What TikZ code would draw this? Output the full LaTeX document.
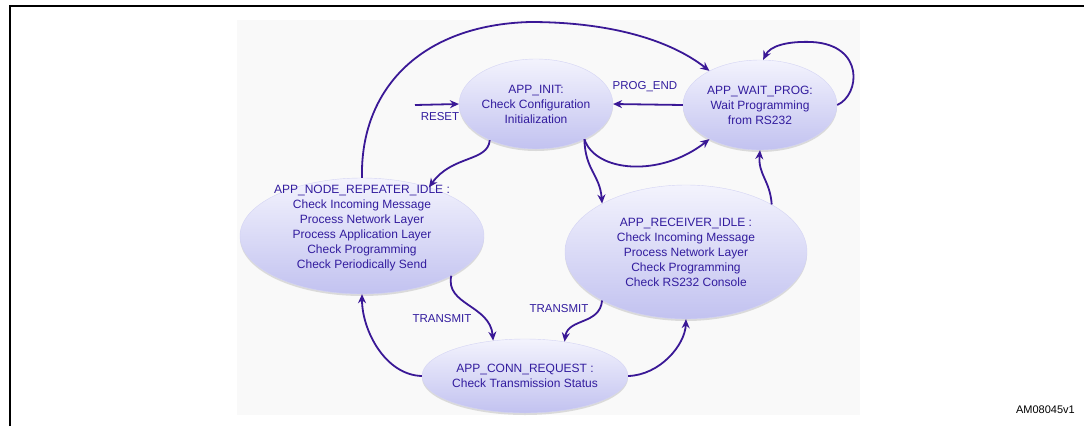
\documentclass[tikz,border=0pt]{standalone}
\usepackage{fontspec}
\setmainfont{Liberation Sans}
\usetikzlibrary{arrows.meta,shapes.geometric,shadows}
\definecolor{arrc}{HTML}{3A1896}
\definecolor{txtc}{HTML}{321C9E}
\definecolor{topc}{HTML}{F3F3FD}
\definecolor{botc}{HTML}{C2C2F0}
\definecolor{bgc}{HTML}{F9F9F9}
\begin{document}
\begin{tikzpicture}[x=1pt,y=-1pt,
  state/.style={ellipse, inner sep=0pt, top color=topc, bottom color=botc,
    draw=botc!70!white, line width=0.4pt, text=txtc, align=center,
    font=\fontsize{12}{15}\selectfont,
    drop shadow={shadow xshift=0pt,shadow yshift=-2pt,opacity=0.25}},
  statetext/.style={text=txtc, align=center, inner sep=0pt, font=\fontsize{12}{15}\selectfont},
  arr/.style={draw=arrc, line width=1.8pt, -{Stealth[length=9pt,width=8pt]}},
  lab/.style={text=txtc, font=\fontsize{11.5}{14}\selectfont, inner sep=0pt}]
\useasboundingbox (0,0) rectangle (1084,426);
\fill[bgc] (237,20) rectangle (860,415);
\draw[line width=2pt] (10,426) -- (10,6) -- (1084,6);

% states
\node[state, minimum width=132pt, minimum height=90pt] (init) at (536,104)
  {APP\_INIT:\\Check Configuration\\Initialization};
\node[state, minimum width=154pt, minimum height=90pt] (wait) at (760,105)
  {APP\_WAIT\_PROG:\\Wait Programming\\from RS232};
\node[state, minimum width=244pt, minimum height=116pt] (node) at (362,236) {};
\node[statetext] (nodetext) at ([yshift=8pt]node.center)
  {APP\_NODE\_REPEATER\_IDLE :\\Check Incoming Message\\Process Network Layer\\Process Application Layer\\Check Programming\\Check Periodically Send};
\node[state, minimum width=242pt, minimum height=134pt] (recv) at (686,252)
  {APP\_RECEIVER\_IDLE :\\Check Incoming Message\\Process Network Layer\\Check Programming\\Check RS232 Console};
\node[state, minimum width=180pt, minimum height=74pt] (conn) at (525,376)
  {APP\_CONN\_REQUEST :\\Check Transmission Status};

% reset
\coordinate (rst) at (415,105);
\draw[arr] (rst) -- (init.west);
\node[lab] (rstlab) at (440,117) {RESET};

% prog end
\draw[arr] (wait.west) -- (init.east);
\node[lab] (pelab) at (645,87) {PROG\_END};

% big arc node -> wait
\draw[arr] (node.north) .. controls (360,90) and (420,25) .. (530,22)
  .. controls (610,22) and (670,40) .. (wait.146);

% self loop
\draw[arr] (wait.east) .. controls (860,95) and (865,45) .. (812,42)
  .. controls (787,41) and (770,46) .. (wait.86);

% init -> node
\draw[arr] (init.218) .. controls (488,162) and (452,155) .. (node.36);

% init -> wait (lower)
\draw[arr] (init.324) .. controls (595,172) and (660,178) .. (wait.214);

% init -> recv
\draw[arr] (init.324) .. controls (585,170) and (600,175) .. (recv.150);

% recv -> wait
\draw[arr] (recv.29) .. controls (770,180) and (758,175) .. (wait.south);

% node -> conn
\draw[arr] (node.336) .. controls (445,305) and (490,305) .. (conn.132);
\node[lab] (tr1) at (442,319) {TRANSMIT};

% recv -> conn
\draw[arr] (recv.210) .. controls (600,325) and (568,318) .. (conn.41);
\node[lab] (tr2) at (559,309) {TRANSMIT};

% conn -> node
\draw[arr] (conn.west) .. controls (385,375) and (362,330) .. (node.south);

% conn -> recv
\draw[arr] (conn.east) .. controls (660,375) and (685,345) .. (recv.south);

\node[font=\fontsize{11}{13}\selectfont, anchor=east, inner sep=0pt] (am) at (1075,410) {AM08045v1};
\end{tikzpicture}
\end{document}
